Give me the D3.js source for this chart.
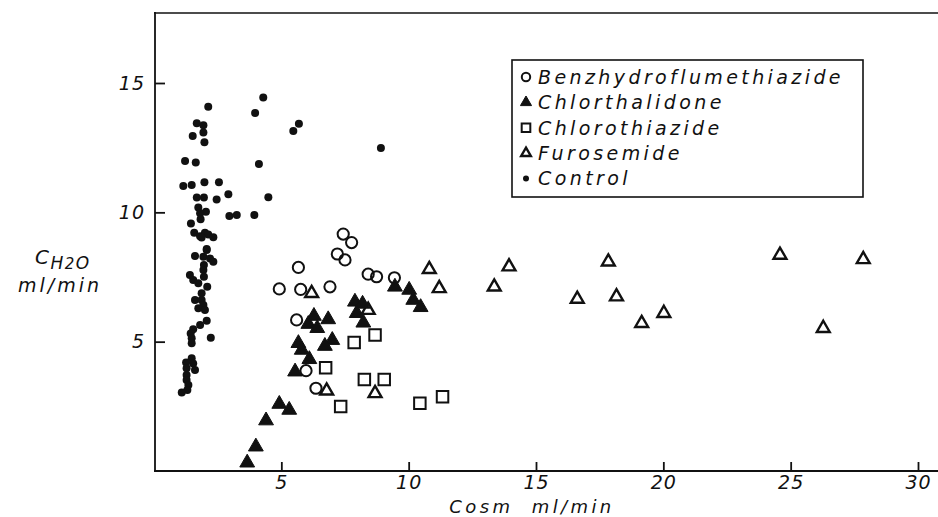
<!DOCTYPE html>
<html>
<head>
<meta charset="utf-8">
<script src="https://cdn.jsdelivr.net/npm/d3@7"></script>
<style>
  body { margin: 0; background: #fff; }
  text { font-family: "DejaVu Sans", sans-serif; font-style: italic; fill: #111; }
</style>
</head>
<body>
<svg id="chart"></svg>
<script>
// values: [Cosm, CH2O] in ml/min
const benzhydro = [
  [7.43, 9.16], [7.76, 8.83], [7.20, 8.39], [7.50, 8.16], [5.67, 7.87],
  [8.41, 7.61], [8.74, 7.51], [9.44, 7.47], [4.92, 7.04], [5.76, 7.02],
  [6.91, 7.12], [5.60, 5.84], [5.97, 3.88], [6.36, 3.20]
];
const chlorthalidone = [
  [7.89, 6.54], [8.19, 6.46], [7.96, 6.10], [8.22, 5.73], [9.46, 7.12],
  [10.02, 7.00], [10.18, 6.61], [10.47, 6.33], [6.28, 5.99], [6.84, 5.86],
  [6.06, 5.68], [6.41, 5.52], [7.00, 5.06], [6.71, 4.83], [5.67, 4.94],
  [5.80, 4.68], [6.10, 4.32], [5.54, 3.84], [4.92, 2.59], [5.31, 2.36],
  [4.40, 1.95], [4.00, 0.94], [3.66, 0.32]
];
const chlorothiazide = [
  [8.68, 5.26], [7.86, 4.97], [6.74, 3.99], [8.26, 3.54], [9.04, 3.54],
  [7.33, 2.49], [10.44, 2.62], [11.33, 2.87]
];
const furosemide = [
  [6.19, 6.87], [8.41, 6.22], [6.78, 3.10], [8.68, 3.00], [10.81, 7.80],
  [11.20, 7.06], [13.94, 7.90], [13.36, 7.12], [17.84, 8.09], [16.62, 6.65],
  [18.16, 6.74], [19.15, 5.71], [20.02, 6.10], [24.58, 8.35], [27.85, 8.18],
  [26.28, 5.52]
];
const control = [
  [2.13, 14.08], [4.29, 14.44], [3.97, 13.84], [1.68, 13.44], [1.94, 13.37],
  [1.94, 13.09], [1.52, 12.95], [1.98, 12.71], [1.22, 11.98], [1.64, 11.93],
  [4.12, 11.87], [1.15, 11.02], [1.48, 11.06], [1.98, 11.16], [2.55, 11.16],
  [2.92, 10.70], [4.49, 10.58], [1.68, 10.57], [1.96, 10.57], [2.46, 10.50],
  [1.74, 10.19], [2.04, 10.02], [1.81, 9.96], [2.96, 9.86], [3.25, 9.90],
  [3.94, 9.90], [1.83, 9.73], [1.45, 9.57], [1.58, 9.21], [1.81, 9.08],
  [2.00, 9.21], [2.13, 9.14], [2.33, 9.04], [1.87, 9.03], [2.07, 8.58],
  [2.07, 8.54], [1.94, 8.28], [2.20, 8.22], [2.33, 8.09], [1.61, 8.31],
  [1.96, 7.96], [1.94, 7.77], [1.96, 7.51], [1.41, 7.58], [1.54, 7.38],
  [1.74, 7.26], [2.09, 7.12], [1.87, 6.87], [1.61, 6.61], [1.87, 6.61],
  [1.94, 6.42], [1.74, 6.29], [2.00, 6.22], [2.07, 5.81], [1.81, 5.64],
  [1.54, 5.48], [1.44, 5.32], [1.48, 5.13], [1.48, 4.94], [2.23, 5.15],
  [1.48, 4.36], [1.26, 4.19], [1.54, 4.16], [1.28, 3.97], [1.61, 3.90],
  [1.28, 3.71], [1.28, 3.52], [1.35, 3.32], [1.31, 3.13], [1.09, 3.03],
  [8.91, 12.49], [5.69, 13.42], [5.47, 13.14]
];

const xTicks = [5, 10, 15, 20, 25, 30];
const yTicks = [5, 10, 15];
const legendNames = ['Benzhydroflumethiazide', 'Chlorthalidone', 'Chlorothiazide', 'Furosemide', 'Control'];

class Scatter {
  constructor(_config) {
    this.config = {
      parentElement: _config.parentElement,
      containerWidth: _config.containerWidth || 938,
      containerHeight: _config.containerHeight || 517
    };
    this.initVis();
  }

  initVis() {
    let vis = this;
    vis.svg = d3.select(vis.config.parentElement)
        .attr('width', vis.config.containerWidth)
        .attr('height', vis.config.containerHeight);

    vis.xScale = d3.scaleLinear().domain([0, 30]).range([154, 918]);
    vis.yScale = d3.scaleLinear().domain([0, 15]).range([471, 83]);

    vis.series = [
      {name: legendNames[0], data: benzhydro, type: 'circle'},
      {name: legendNames[1], data: chlorthalidone, type: 'filledTri'},
      {name: legendNames[2], data: chlorothiazide, type: 'square'},
      {name: legendNames[3], data: furosemide, type: 'openTri'},
      {name: legendNames[4], data: control, type: 'dot'}
    ];

    vis.renderVis();
  }

  drawMark(g, type, scale) {
    const s = scale || 1;
    if (type === 'circle') {
      g.append('circle').attr('r', 5.6 * s)
          .attr('fill', 'none').attr('stroke', '#111').attr('stroke-width', 2);
    } else if (type === 'dot') {
      g.append('circle').attr('r', 4 * s).attr('fill', '#111');
    } else if (type === 'square') {
      g.append('path').attr('d', d3.symbol(d3.symbolSquare, 132 * s * s)())
          .attr('fill', 'none').attr('stroke', '#111').attr('stroke-width', 2);
    } else if (type === 'filledTri') {
      g.append('path').attr('d', d3.symbol(d3.symbolTriangle, 95 * s * s)())
          .attr('fill', '#111').attr('stroke', '#111').attr('stroke-width', 1);
    } else if (type === 'openTri') {
      g.append('path').attr('d', d3.symbol(d3.symbolTriangle, 72 * s * s)())
          .attr('fill', 'none').attr('stroke', '#111').attr('stroke-width', 2.4);
    }
  }

  renderVis() {
    let vis = this;

    // top border line
    vis.svg.append('line')
        .attr('x1', 154).attr('x2', 938).attr('y1', 13).attr('y2', 13)
        .attr('stroke', '#111').attr('stroke-width', 1.6);

    vis.xAxis = d3.axisBottom(vis.xScale)
        .tickValues(xTicks)
        .tickSizeInner(-9).tickSizeOuter(0)
        .tickPadding(5);
    vis.xAxisG = vis.svg.append('g')
        .attr('transform', `translate(0,${vis.yScale(0)})`)
        .call(vis.xAxis);
    vis.xAxisG.select('.domain').remove();
    vis.xAxisG.append('line')
        .attr('x1', 154).attr('x2', 938)
        .attr('stroke', '#111').attr('stroke-width', 1.8);

    vis.yAxis = d3.axisLeft(vis.yScale)
        .tickValues(yTicks)
        .tickSizeInner(-10).tickSizeOuter(0)
        .tickPadding(10);
    vis.yAxisG = vis.svg.append('g')
        .attr('transform', `translate(${vis.xScale(0) + 1},0)`)
        .call(vis.yAxis);
    vis.yAxisG.select('.domain').remove();
    vis.yAxisG.append('line')
        .attr('y1', 12).attr('y2', vis.yScale(0))
        .attr('stroke', '#111').attr('stroke-width', 1.8);

    [vis.xAxisG, vis.yAxisG].forEach(g => {
      g.selectAll('.tick line').attr('stroke', '#111').attr('stroke-width', 1.8);
      g.selectAll('.tick text')
          .style('font-size', '19px')
          .style('letter-spacing', '1px')
          .style('font-family', '"DejaVu Sans", sans-serif')
          .style('font-style', 'italic')
          .attr('fill', '#111');
    });

    // points
    vis.series.forEach(s => {
      const grp = vis.svg.append('g');
      s.data.forEach(d => {
        const g = grp.append('g')
            .attr('transform', `translate(${vis.xScale(d[0])},${vis.yScale(d[1])})`);
        vis.drawMark(g, s.type);
      });
    });

    // legend
    const legend = vis.svg.append('g');
    legend.append('rect')
        .attr('x', 512).attr('y', 60).attr('width', 351).attr('height', 137)
        .attr('fill', '#fff').attr('stroke', '#111').attr('stroke-width', 1.6);
    vis.series.forEach((s, i) => {
      const row = legend.append('g')
          .attr('transform', `translate(526,${77 + i * 25.4})`);
      vis.drawMark(row, s.type, 0.75);
      row.append('text')
          .attr('x', 12).attr('dy', '0.36em')
          .style('font-size', '19px')
          .style('letter-spacing', '3.4px')
          .text(s.name);
    });

    // axis titles
    vis.svg.append('text')
        .attr('x', 532).attr('y', 513)
        .attr('text-anchor', 'middle')
        .style('font-size', '18px')
        .style('letter-spacing', '3.4px')
        .style('white-space', 'pre')
        .text('Cosm  ml/min');

    const yt = vis.svg.append('text')
        .attr('x', 35).attr('y', 264)
        .style('font-size', '20px')
        .style('letter-spacing', '1.5px');
    yt.append('tspan').text('C');
    yt.append('tspan').attr('dy', 5).style('font-size', '17px').text('H');
    yt.append('tspan').attr('dy', 0).style('font-size', '15px').text('2');
    yt.append('tspan').attr('dy', 0).style('font-size', '17px').text('O');

    vis.svg.append('text')
        .attr('x', 60).attr('y', 292)
        .attr('text-anchor', 'middle')
        .style('font-size', '19px')
        .style('letter-spacing', '3px')
        .text('ml/min');
  }
}

new Scatter({parentElement: '#chart'});
</script>
</body>
</html>
